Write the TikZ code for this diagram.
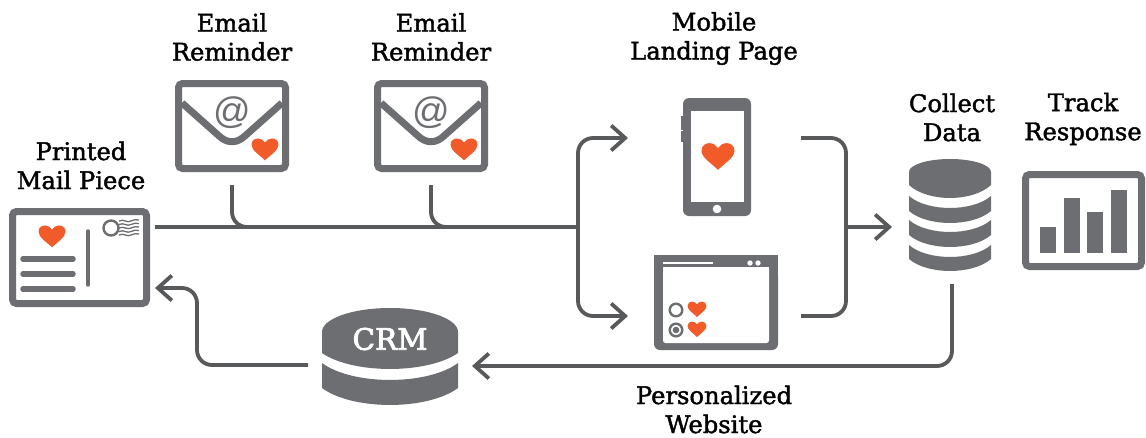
\documentclass[tikz,border=0pt]{standalone}
\usepackage{fontspec}
\setmainfont{DejaVu Serif}
\newfontfamily\labelfont{DejaVu Serif}[RawFeature={embolden=1.7}]
\newfontfamily\crmfont{DejaVu Serif}[RawFeature={embolden=2.6}]
\newfontfamily\iconsans{Liberation Sans}
\usetikzlibrary{arrows.meta}
\definecolor{icongray}{HTML}{6D6E71}
\definecolor{linegray}{HTML}{58595B}
\definecolor{heartc}{HTML}{F15A29}
\tikzset{
  x=1pt,y=-1pt,
  label text/.style={font=\labelfont\fontsize{24.2}{29}\selectfont,align=center,text=black,inner sep=0pt},
  conn/.style={draw=linegray,line width=3.8pt,rounded corners=15pt},
  arrowed/.style={conn,-{Straight Barb[length=14pt,width=25pt,line width=3.8pt]}},
  frame/.style={draw=icongray,fill=white,line width=7pt,rounded corners=4pt,inner sep=0pt},
  iconline/.style={draw=icongray,line cap=round},
  heart/.pic={\fill[heartc] (0,.42) .. controls (-.2,.22) and (-.5,.05) .. (-.5,-.16)
      .. controls (-.5,-.32) and (-.37,-.39) .. (-.26,-.39)
      .. controls (-.14,-.39) and (-.05,-.32) .. (0,-.24)
      .. controls (.05,-.32) and (.14,-.39) .. (.26,-.39)
      .. controls (.37,-.39) and (.5,-.32) .. (.5,-.16)
      .. controls (.5,.05) and (.2,.22) .. (0,.42) -- cycle;},
  envelope/.pic={
    \node[frame,minimum width=107pt,minimum height=85pt] at (0,0) {};
    \draw[icongray,line width=7pt,line join=round] (-50,-23) -- (-14,9) .. controls (-5,18) and (5,18) .. (14,9) -- (50,-23);
    \node[text=icongray,font=\iconsans\fontsize{37}{37}\selectfont,inner sep=0pt] at (0,-13) {@};
    \pic[scale=27] at (33,23) {heart};
  },
}
% band of a cylinder: #1 centre x, #2 half width, #3 side top, #4 side bottom, #5 sag
\newcommand{\cylband}[5]{\fill[icongray] (#1-#2,#3) .. controls (#1-#2*.55,#3+#5*1.33) and (#1+#2*.55,#3+#5*1.33) .. (#1+#2,#3)
  -- (#1+#2,#4) .. controls (#1+#2*.55,#4+#5*1.33) and (#1-#2*.55,#4+#5*1.33) .. (#1-#2,#4) -- cycle;}
\begin{document}
\begin{tikzpicture}
\useasboundingbox (0,0) rectangle (1146,437);
\fill[white] (0,0) rectangle (1146,437);

% labels
\node[label text] (lprinted) at (81,165.5) {Printed\\Mail Piece};
\node[label text] (lrem1) at (232,37) {Email\\Reminder};
\node[label text] (lrem2) at (431,37) {Email\\Reminder};
\node[label text] (lmobile) at (714,38.5) {Mobile\\Landing Page};
\node[label text] (lcollect) at (952,117.5) {Collect\\Data};
\node[label text] (ltrack) at (1083,119) {Track\\Response};
\node[label text] (lweb) at (714,409.5) {Personalized\\Website};

% postcard
\node[frame,minimum width=134pt,minimum height=92pt] (postcard) at (79.5,257.5) {};
\pic[scale=27] at (52,236) {heart};
\foreach \yy in {259,274,289} \draw[iconline,line width=5.5pt] (23,\yy) -- (73,\yy);
\draw[iconline,line width=3.5pt] (88,231) -- (88,285);
\draw[icongray,line width=2.4pt] (111,228) circle (7.5);
\foreach \yy in {221,224.5,228,231.5,235}
  \draw[icongray,line width=1.3pt] (119,\yy) .. controls (124,\yy-2.5) and (127,\yy+2.5) .. (131,\yy) .. controls (134,\yy-2) and (136,\yy-1) .. (139,\yy-1);

% envelopes
\pic at (232,126) {envelope};
\pic at (431,126) {envelope};

% phone
\fill[icongray] (681,116) rectangle (685,130);
\fill[icongray] (681,131) rectangle (685,142);
\node[fill=icongray,rounded corners=6pt,minimum width=68pt,minimum height=118pt,inner sep=0pt] (phone) at (717,157) {};
\fill[white] (691,111) rectangle (744,202);
\fill[white] (717,209) circle (4.3);
\pic[scale=33] at (718,156) {heart};

% browser
\fill[icongray,rounded corners=6pt] (654,270) -- (654,350) -- (778,350) -- (778,270) -- cycle;
\fill[icongray] (654,255) rectangle (778,275);
\fill[white,rounded corners=2.5pt] (663,267) -- (663,343) -- (769,343) -- (769,267) -- cycle;
\fill[white] (663,267) rectangle (769,272);
\fill[white] (663,261.7) rectangle (713,264.3);
\fill[white] (750,263) circle (2.7);
\fill[white] (758,263) circle (2.7);
\draw[icongray,line width=2.4pt] (676,310) circle (6.3);
\draw[icongray,line width=2.4pt] (676,330) circle (6.3);
\fill[icongray] (676,330) circle (3.3);
\pic[scale=19] at (697,309) {heart};
\pic[scale=19] at (697,329) {heart};

% database
\fill[icongray] (950,172) ellipse (41 and 13);
\fill[icongray] (909,172) rectangle (991,185);
\cylband{950}{41}{172}{185}{13}
\cylband{950}{41}{196}{211}{12}
\cylband{950}{41}{220}{235}{12}
\cylband{950}{41}{245}{259}{12}

% chart
\node[frame,minimum width=116pt,minimum height=92pt] (chart) at (1083.5,220.5) {};
\fill[icongray] (1040,227) rectangle (1056,253);
\fill[icongray] (1064,198) rectangle (1080,253);
\fill[icongray] (1087,212) rectangle (1103,253);
\fill[icongray] (1111,190) rectangle (1127,253);

% CRM
\fill[icongray] (390,332) ellipse (68 and 24);
\fill[icongray] (322,332) rectangle (458,353);
\cylband{390}{68}{332}{353}{16}
\cylband{390}{68}{363}{388}{17}
\node[text=white,font=\crmfont\fontsize{29.5}{29.5}\selectfont,inner sep=0pt] (crm) at (390,339) {CRM};

% connector ends
\coordinate (mainstart) at (155,227);
\coordinate (split) at (578,227);
\coordinate (toMobile) at (628,138);
\coordinate (toWeb) at (628,316);
\coordinate (fromMobile) at (801,138);
\coordinate (fromWeb) at (801,316);
\coordinate (merge) at (846,227);
\coordinate (toDb) at (892,227);
\coordinate (rem1) at (232,185);
\coordinate (rem1j) at (252,227);
\coordinate (rem2) at (431,185);
\coordinate (rem2j) at (451,227);
\coordinate (fromDb) at (952,284);
\coordinate (toCrm) at (472,366);
\coordinate (fromCrm) at (308,365);
\coordinate (crmCorner) at (197,288);
\coordinate (toCard) at (155,288);

% connectors
\draw[conn,line cap=butt] (mainstart) -- (split);
\draw[conn] (rem1) |- (rem1j);
\draw[conn] (rem2) |- (rem2j);
\draw[arrowed] (split) |- (toMobile);
\draw[arrowed] (split) |- (toWeb);
\draw[conn] (fromMobile) -| (merge) |- (fromWeb);
\draw[arrowed] (merge) -- (toDb);
\draw[arrowed] (fromDb) |- (toCrm);
\draw[arrowed] (fromCrm) -| (crmCorner) -- (toCard);
\end{tikzpicture}
\end{document}
